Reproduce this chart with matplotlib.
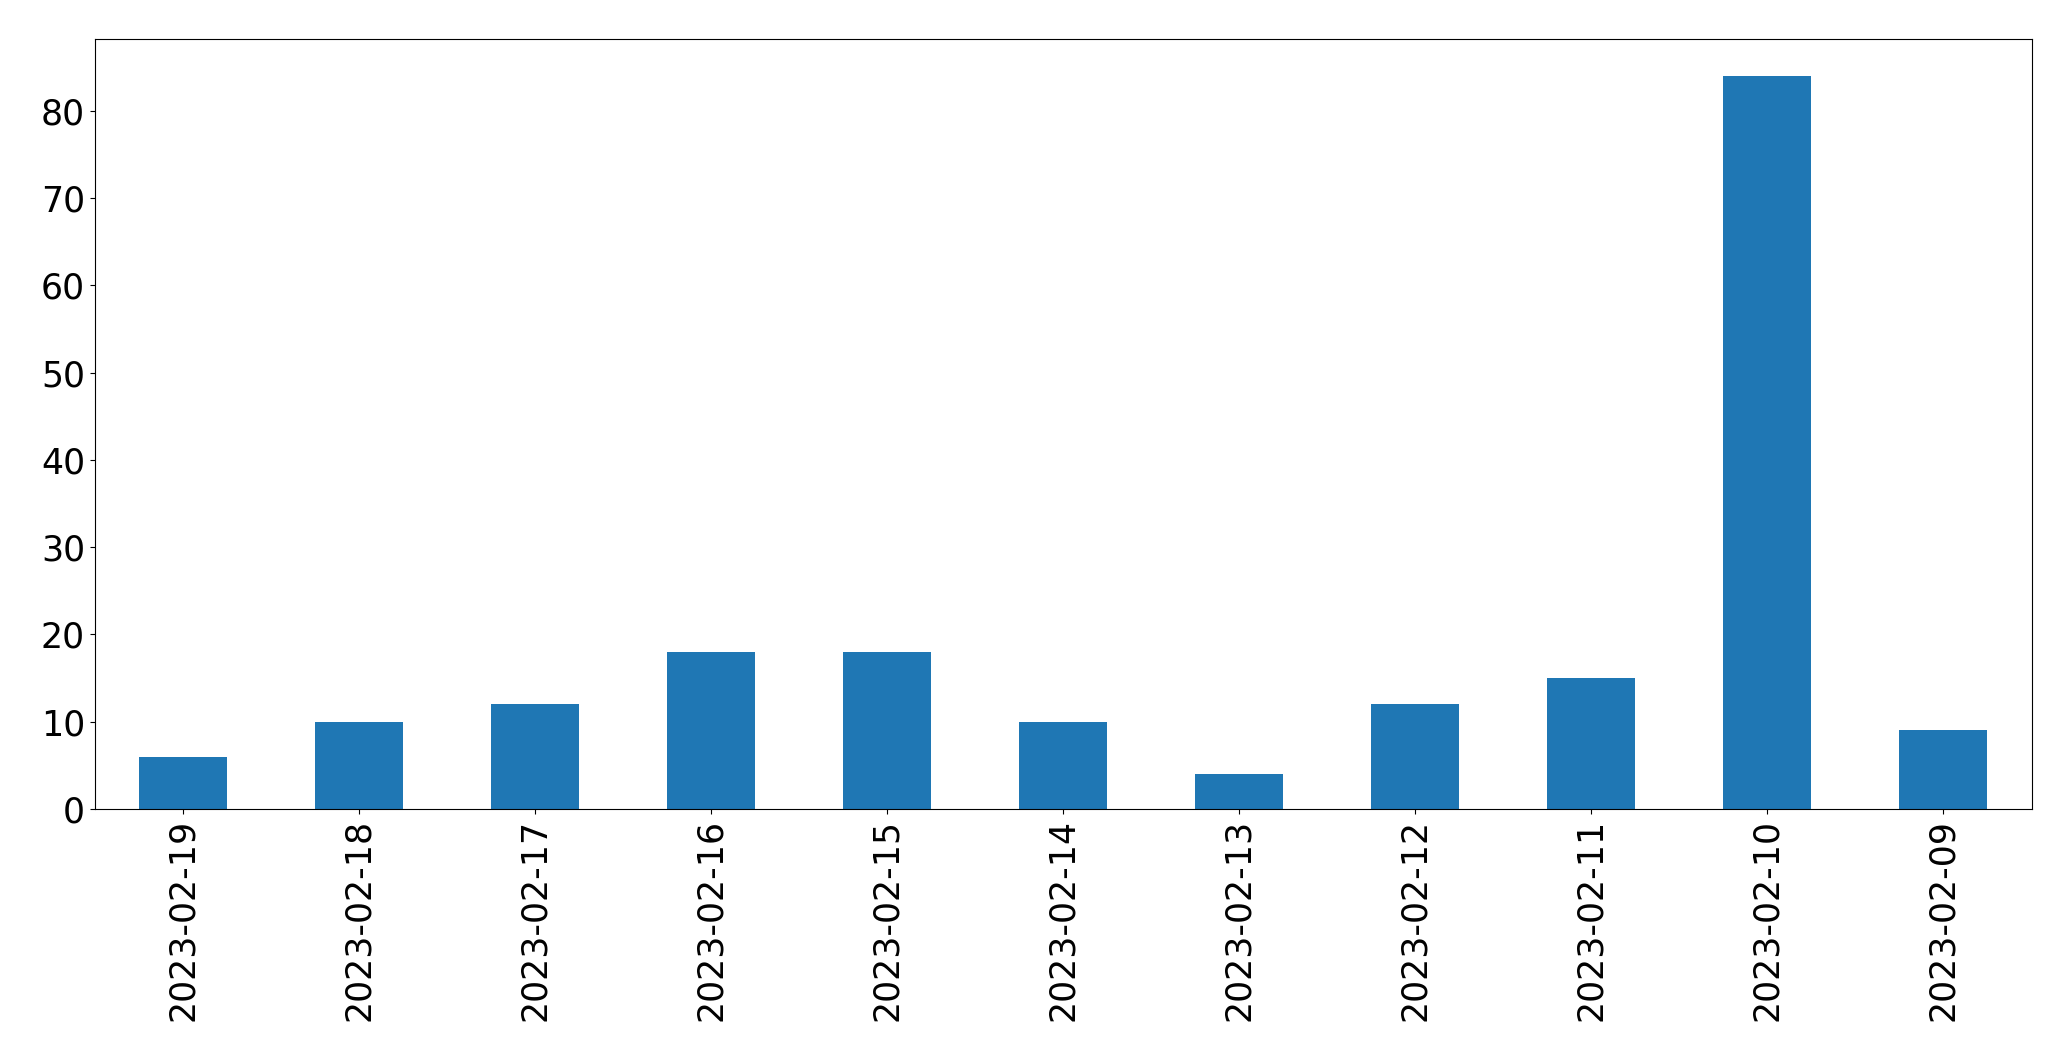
import numpy as np
import pandas as pd
import matplotlib
matplotlib.use("Agg")
import matplotlib.pyplot as plt

dates = ['2023-02-19', '2023-02-18', '2023-02-17', '2023-02-16', '2023-02-15',
         '2023-02-14', '2023-02-13', '2023-02-12', '2023-02-11', '2023-02-10',
         '2023-02-09']
counts = [6, 10, 12, 18, 18, 10, 4, 12, 15, 84, 9]

s = pd.Series(counts, index=dates)

fig = plt.figure(figsize=(20.71, 10.61), dpi=100)
ax = fig.add_subplot(1, 1, 1)
s.plot(kind='bar', ax=ax, color='#1f77b4', fontsize=25)

plt.subplots_adjust(left=94.7 / 2071, right=2031.5 / 2071,
                    top=1 - 39.3 / 1061, bottom=1 - 809 / 1061)

fig.savefig('out.png', dpi=100)
